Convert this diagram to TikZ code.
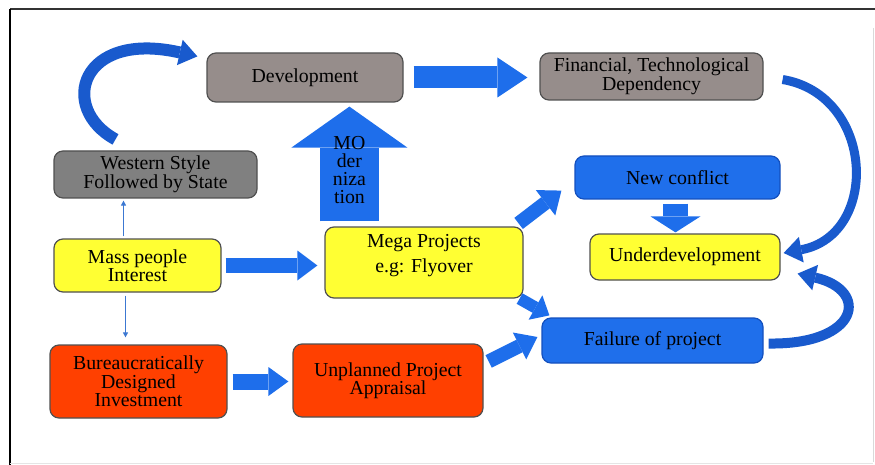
\documentclass[tikz,border=0pt]{standalone}
\usepackage{fontspec}
\setmainfont{Liberation Serif}
\newfontfamily\boxfont{Liberation Serif}
\usetikzlibrary{arrows.meta,calc}
\definecolor{gbox}{RGB}{150,141,139}
\definecolor{gdark}{RGB}{128,128,128}
\definecolor{ybox}{RGB}{255,255,51}
\definecolor{bbox}{RGB}{31,111,235}
\definecolor{rbox}{RGB}{255,64,0}
\definecolor{arrblue}{RGB}{30,110,235}
\definecolor{curveblue}{RGB}{25,90,205}
\definecolor{thinblue}{RGB}{60,120,210}
\definecolor{edge}{RGB}{80,80,80}
\definecolor{bedge}{RGB}{20,80,190}
\begin{document}
\begin{tikzpicture}[x=1pt,y=-1pt,
  box/.style={draw=edge, line width=1.2pt, rounded corners=9pt, align=center,
    inner sep=0pt, font=\boxfont\fontsize{19.8}{18.5}\selectfont, text=black},
  blk/.style={arrblue, line cap=butt},
  crv/.style={curveblue, line cap=butt},
  thinarr/.style={thinblue, line width=0.8pt, -{Triangle[width=5pt,length=5pt]}}
]
\useasboundingbox (0,0) rectangle (875,465);
% frame
\draw[black!80, line width=1.5pt] (10,9) -- (875,9);
\draw[black, line width=2pt] (10,9) -- (10,465);
\draw[black!15, line width=1pt] (873,28) -- (873,462);
\draw[black!10, line width=1pt] (10,463) -- (873,463);

% nodes
\node[box, fill=gbox, minimum width=196pt, minimum height=49pt] (dev) at (305,77.5) {Development};
\node[box, fill=gbox, minimum width=223pt, minimum height=47pt] (fin) at (651.5,76.5) {Financial, Technological\\Dependency};
\node[box, fill=gdark, minimum width=203pt, minimum height=47pt] (west) at (155.5,174.5) {Western Style\\Followed by State};
\node[box, fill=ybox, minimum width=167pt, minimum height=53pt] (mass) at (137.5,265.5) {Mass people\\Interest};
\node[box, fill=ybox, minimum width=198pt, minimum height=71pt] (mega) at (424,262.5) {};
\node[align=center, inner sep=0pt, font=\boxfont\fontsize{19.8}{25}\selectfont] (megatext) at (424,256) {Mega Projects\\e.g: Flyover};
\node[box, draw=bedge, fill=bbox, minimum width=205pt, minimum height=43pt] (nc) at (677.5,177.5) {New conflict};
\node[box, fill=ybox, minimum width=190pt, minimum height=46pt] (under) at (685,257) {Underdevelopment};
\node[box, draw=bedge, fill=bbox, minimum width=221pt, minimum height=45pt] (fail) at (652.5,340.5) {Failure of project};
\node[box, fill=rbox, minimum width=177pt, minimum height=73pt] (bur) at (138.5,381.5) {Bureaucratically\\Designed\\Investment};
\node[box, fill=rbox, minimum width=190pt, minimum height=73pt] (unp) at (388,380.5) {Unplanned Project\\Appraisal};

% block arrows
\draw[blk, line width=22pt, -{Triangle[width=40pt,length=30pt,line width=0pt]}, shorten <=10pt, shorten >=12pt]
  (dev.east) -- (dev.east -| fin.west);
\coordinate (modtail) at ($(mega.north west)+(25,-5)$);
\draw[blk, line width=59pt, -{Triangle[width=116pt,length=41pt,line width=0pt]}, shorten >=4pt]
  (modtail) -- (modtail |- dev.south)
  node[pos=0.43, text=black, align=center, inner sep=0pt, font=\boxfont\fontsize{19.8}{18}\selectfont] (modtext) {MO\\der\\niza\\tion};
\draw[blk, line width=15pt, -{Triangle[width=30pt,length=20pt,line width=0pt]}, shorten <=4pt, shorten >=7pt]
  (mass.east) -- (mass.east -| mega.west);
\draw[blk, line width=16pt, -{Triangle[width=29pt,length=20pt,line width=0pt]}, shorten <=5pt, shorten >=4pt]
  (bur.east) -- (bur.east -| unp.west);
\draw[blk, line width=14pt, -{Triangle[width=32pt,length=20pt,line width=0pt]}]
  ($(mega.north east)+(-5,-3)$) -- ($(nc.south west)+(-13,-9)$);
\draw[blk, line width=12pt, -{Triangle[width=28pt,length=16pt,line width=0pt]}]
  ($(mega.south east)+(-4,0)$) -- ($(fail.north west)+(8,-2)$);
\draw[blk, line width=14pt, -{Triangle[width=30pt,length=20pt,line width=0pt]}]
  ($(unp.north east)+(5,18)$) -- ($(fail.west)+(-4,-3.5)$);
\coordinate (nctail) at ($(nc.south)+(-2,4)$);
\draw[blk, line width=25pt, -{Triangle[width=50pt,length=16pt,line width=0pt]}, shorten >=1pt]
  (nctail) -- (nctail |- under.north);

% curved arrows
\draw[crv, line width=12pt, -{Triangle[width=26pt,length=18pt,line width=0pt]}]
  ($(west.north)+(-40,-11)$) .. controls (58,108) and (80,30) .. ($(dev.north west)+(-9,4)$);
\draw[crv, line width=9pt, -{Triangle[width=26pt,length=18pt,line width=0pt]}]
  ($(fin.east)+(19,3)$) .. controls (875,95) and (880,235) .. ($(under.east)+(3,-4)$);
\draw[crv, line width=10pt, -{Triangle[width=26pt,length=18pt,line width=0pt]}]
  ($(fail.east)+(5,3)$) .. controls (860,345) and (870,290) .. ($(under.south east)+(17,-7)$);

% thin arrows
\coordinate (mtop) at ($(mass.north)+(-14,0)$);
\coordinate (mbot) at ($(mass.south)+(-12,0)$);
\draw[thinarr, shorten <=2pt, shorten >=2pt] (mtop) -- (mtop |- west.south);
\draw[thinarr, shorten <=3pt, shorten >=7pt] (mbot) -- (mbot |- bur.north);
\end{tikzpicture}
\end{document}
